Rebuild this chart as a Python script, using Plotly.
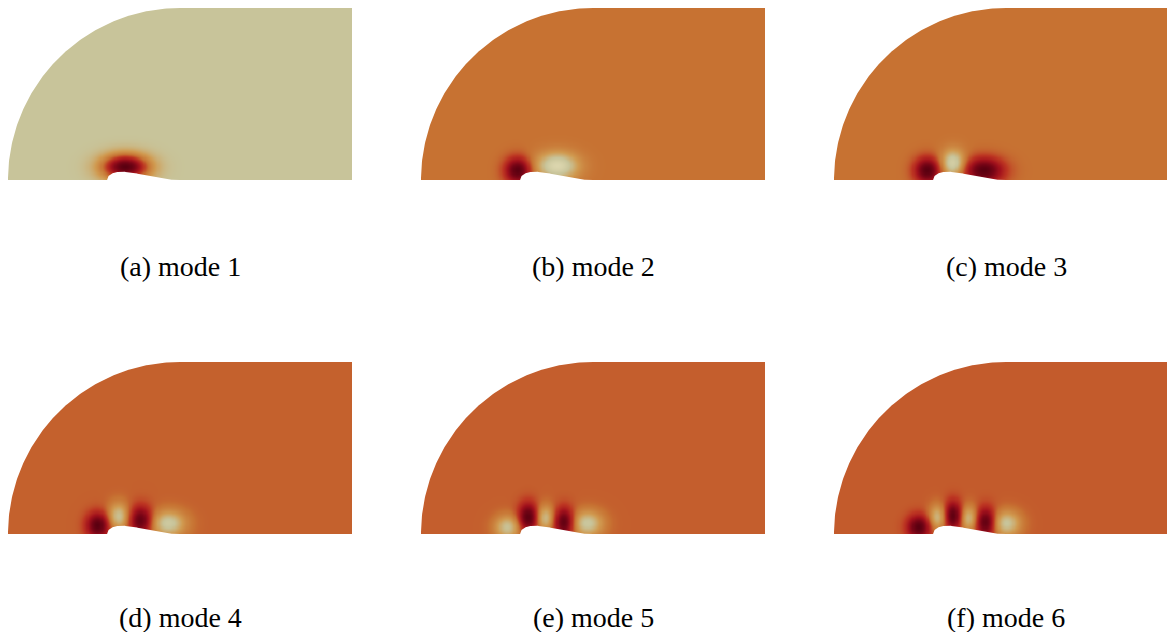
import numpy as np
import plotly.graph_objects as go

FIG_W, FIG_H = 1167, 632
PX_PER_UNIT = 172          # domain: half-disc (x<0) + rectangle (x>=0), x in [-1, 1], y in [0, 1]

captions = ["(a) mode 1", "(b) mode 2", "(c) mode 3",
            "(d) mode 4", "(e) mode 5", "(f) mode 6"]

# Lobes of each eigenmode: centre (x, y), amplitude, widths (sx, sy)
mode1_x = [-0.32]
mode1_y = [0.078]
mode1_amp = [-1.0]
mode1_sx = [0.095]
mode1_sy = [0.052]

mode2_x = [-0.44, -0.21]
mode2_y = [0.058, 0.085]
mode2_amp = [-1.0, 0.85]
mode2_sx = [0.052, 0.085]
mode2_sy = [0.052, 0.055]

mode3_x = [-0.46, -0.31, -0.13]
mode3_y = [0.058, 0.100, 0.058]
mode3_amp = [-1.0, 0.8, -1.0]
mode3_sx = [0.052, 0.048, 0.080]
mode3_sy = [0.052, 0.055, 0.052]

mode4_x = [-0.48, -0.36, -0.23, -0.07]
mode4_y = [0.052, 0.105, 0.080, 0.064]
mode4_amp = [-1.0, 0.72, -0.95, 0.8]
mode4_sx = [0.046, 0.042, 0.046, 0.070]
mode4_sy = [0.052, 0.055, 0.058, 0.052]

mode5_x = [-0.50, -0.38, -0.28, -0.17, -0.035]
mode5_y = [0.042, 0.099, 0.095, 0.070, 0.064]
mode5_amp = [0.72, -1.0, 0.68, -1.0, 0.78]
mode5_sx = [0.052, 0.040, 0.036, 0.040, 0.064]
mode5_sy = [0.048, 0.058, 0.052, 0.058, 0.052]

mode6_x = [-0.51, -0.40, -0.31, -0.22, -0.12, 0.00]
mode6_y = [0.042, 0.099, 0.108, 0.093, 0.070, 0.064]
mode6_amp = [-1.0, 0.68, -1.0, 0.68, -1.0, 0.78]
mode6_sx = [0.046, 0.036, 0.036, 0.036, 0.040, 0.058]
mode6_sy = [0.048, 0.052, 0.058, 0.052, 0.058, 0.052]

modes = [
    (mode1_x, mode1_y, mode1_amp, mode1_sx, mode1_sy),
    (mode2_x, mode2_y, mode2_amp, mode2_sx, mode2_sy),
    (mode3_x, mode3_y, mode3_amp, mode3_sx, mode3_sy),
    (mode4_x, mode4_y, mode4_amp, mode4_sx, mode4_sy),
    (mode5_x, mode5_y, mode5_amp, mode5_sx, mode5_sy),
    (mode6_x, mode6_y, mode6_amp, mode6_sx, mode6_sy),
]

# colour limits of each panel
z_lo = [-1.0, -1.0, -1.0, -1.0, -1.0, -1.0]
z_hi = [0.25, 1.0, 1.0, 1.15, 1.17, 1.2]

# airfoil on the symmetry line
foil_le = -0.424
foil_chord = 0.424
foil_height = 0.048

# panel placement (pixels)
panel_left = [8, 421, 834, 8, 421, 834]
panel_top = [8, 8, 8, 362, 362, 362]
caption_y = [266, 266, 266, 617, 617, 617]

colorscale = [
    [0.00, "#5a0010"],
    [0.12, "#7a0516"],
    [0.25, "#a3121c"],
    [0.38, "#bd3622"],
    [0.50, "#c77232"],
    [0.65, "#d09a50"],
    [0.80, "#c8c49a"],
    [1.00, "#e6dfb8"],
]

gx = np.linspace(-1.0, 1.0, 321)
gy = np.linspace(0.0, 1.0, 161)
GX, GY = np.meshgrid(gx, gy)


def field(xs, ys, amps, sxs, sys_):
    z = np.zeros_like(GX)
    for cx, cy, a, sx, sy in zip(xs, ys, amps, sxs, sys_):
        z += a * np.exp(-((GX - cx) ** 2 / (2 * sx ** 2) + (GY - cy) ** 2 / (2 * sy ** 2)))
    return z


# white mask outside the quarter circle
theta = np.linspace(np.pi, np.pi / 2, 120)
mask_x = np.concatenate([[-1.05], np.cos(theta), [0.0, -1.05]])
mask_y = np.concatenate([[0.0], np.sin(theta), [1.05, 1.05]])

# upper surface of the airfoil
xi = np.linspace(0.0, 1.0, 200)
shape = np.sqrt(xi) * (1 - xi) ** 2.0
shape = shape / shape.max()
foil_x = np.concatenate([foil_le + foil_chord * xi, [foil_le + foil_chord, foil_le]])
foil_y = np.concatenate([foil_height * shape, [-0.05, -0.05]])

fig = go.Figure()
layout = dict(
    width=FIG_W, height=FIG_H,
    margin=dict(l=0, r=0, t=0, b=0),
    paper_bgcolor="white", plot_bgcolor="white",
    showlegend=False,
    annotations=[],
)

for i, (mx, my, ma, msx, msy) in enumerate(modes):
    n = "" if i == 0 else str(i + 1)
    left = panel_left[i]
    right = min(left + 2 * PX_PER_UNIT, FIG_W)
    top = panel_top[i]
    bottom = top + PX_PER_UNIT

    layout["xaxis" + n] = dict(
        domain=[left / FIG_W, right / FIG_W],
        range=[-1.0, -1.0 + (right - left) / PX_PER_UNIT],
        visible=False, fixedrange=True, anchor="y" + n,
    )
    layout["yaxis" + n] = dict(
        domain=[1 - bottom / FIG_H, 1 - top / FIG_H],
        range=[0.0, 1.0],
        visible=False, fixedrange=True, anchor="x" + n,
    )

    fig.add_trace(go.Heatmap(
        x=gx, y=gy, z=field(mx, my, ma, msx, msy),
        zmin=z_lo[i], zmax=z_hi[i], colorscale=colorscale,
        zsmooth="best", showscale=False, hoverinfo="skip",
        xaxis="x" + n, yaxis="y" + n,
    ))
    for px_, py_ in ((mask_x, mask_y), (foil_x, foil_y)):
        fig.add_trace(go.Scatter(
            x=px_, y=py_, mode="lines", fill="toself",
            fillcolor="white", line=dict(width=0, color="white"),
            hoverinfo="skip", xaxis="x" + n, yaxis="y" + n,
        ))

    layout["annotations"].append(dict(
        text=captions[i], xref="paper", yref="paper",
        x=(left + PX_PER_UNIT) / FIG_W, y=1 - caption_y[i] / FIG_H,
        xanchor="center", yanchor="middle", showarrow=False,
        font=dict(family="Liberation Serif", size=28, color="black"),
    ))

fig.update_layout(**layout)
fig.write_html("out.html")
